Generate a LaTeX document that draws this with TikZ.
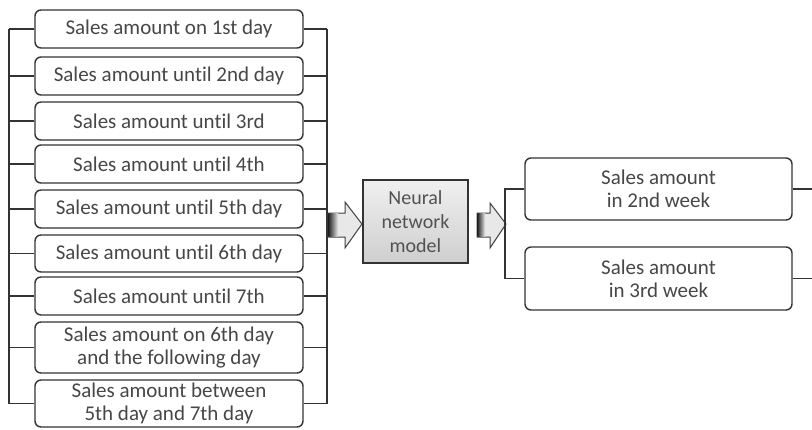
\documentclass[tikz,border=0pt]{standalone}
\usepackage{fontspec}
\setmainfont[Ligatures=NoCommon]{Carlito}
\begin{document}
\begin{tikzpicture}[x=1pt,y=-1pt,
  inbox/.style={draw=black!80, line width=1.4pt, rounded corners=6pt, fill=white,
    text=black!72, font=\fontsize{21}{23}\selectfont, minimum width=268pt,
    inner sep=0pt, align=center},
  outbox/.style={inbox, minimum width=267pt},
  link/.style={draw=black!80, line width=1.3pt},
  blockarrow/.style={draw=black!75, line width=1pt, fill=gray!18}]
\useasboundingbox (0,0) rectangle (812,429);
% left input boxes
\node[inbox, minimum height=38pt] (L1) at (169,29) {Sales amount on 1st day};
\node[inbox, minimum height=38pt] (L2) at (169,76) {Sales amount until 2nd day};
\node[inbox, minimum height=38pt] (L3) at (169,121) {Sales amount until 3rd};
\node[inbox, minimum height=38pt] (L4) at (169,164) {Sales amount until 4th};
\node[inbox, minimum height=38pt] (L5) at (169,209) {Sales amount until 5th day};
\node[inbox, minimum height=37pt] (L6) at (169,253.5) {Sales amount until 6th day};
\node[inbox, minimum height=38pt] (L7) at (169,296) {Sales amount until 7th};
\node[inbox, minimum height=51pt] (L8) at (169,347.5) {Sales amount on 6th day\\and the following day};
\node[inbox, minimum height=47pt] (L9) at (169,403.5) {Sales amount between\\5th day and 7th day};
% buses
\coordinate (lbT) at (9,29);
\coordinate (lbB) at (9,403.5);
\coordinate (rbT) at (327,29);
\coordinate (rbB) at (327,403.5);
\draw[link] (lbT) -- (lbB);
\draw[link] (rbT) -- (rbB);
\foreach \n in {L1,L2,L3,L4,L5,L6,L7,L8,L9}{
  \draw[link] (\n.west) -- (\n.west -| lbT);
  \draw[link] (\n.east) -- (\n.east -| rbT);
}
% neural network box
\node[draw=black!80, line width=1.3pt, top color=gray!12, bottom color=gray!38,
  text=black!68, font=\fontsize{20}{24}\selectfont, align=center,
  minimum width=105pt, minimum height=83pt, inner sep=0pt] (NN) at (415.5,221.5)
  {Neural\\network\\model};
% block arrows
\draw[blockarrow] (328,213) -- (345,213) -- (345,202) -- (362,224) -- (345,248) -- (345,237) -- (328,237) -- cycle;
\fill[left color=black!85, right color=gray!18] (328.5,213.5) rectangle (338,236.5);
\draw[blockarrow] (477,213) -- (490,213) -- (490,203) -- (506,224) -- (490,248) -- (490,237) -- (477,237) -- cycle;
\fill[left color=black!85, right color=gray!18] (477.5,213.5) rectangle (485,236.5);
% output boxes
\node[outbox, minimum height=62pt] (R1) at (658.5,189) {Sales amount\\in 2nd week};
\node[outbox, minimum height=63pt] (R2) at (658.5,278.5) {Sales amount\\in 3rd week};
\coordinate (obT) at (505,189);
\coordinate (obB) at (505,278.5);
\coordinate (eR1) at (812,189);
\coordinate (eR2) at (812,278.5);
\draw[link] (R1.west) -- (obT) -- (obB) -- (R2.west);
\draw[link] (R1.east) -- (eR1);
\draw[link] (R2.east) -- (eR2);
\end{tikzpicture}
\end{document}
